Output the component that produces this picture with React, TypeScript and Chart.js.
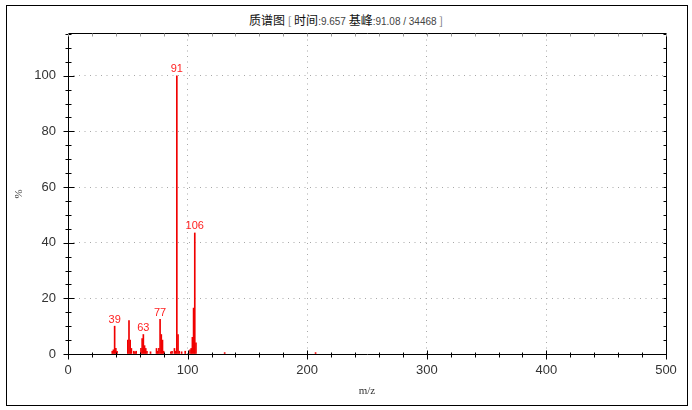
import { useEffect, useRef } from 'react'
import { Chart, registerables } from 'chart.js'

Chart.register(...registerables)

// spectrum peaks (m/z, relative abundance %)
const MZ = [
  37, 38, 39, 40, 41, 50, 51, 52, 53, 55, 56, 57, 61, 62, 63, 64, 65, 66, 69,
  74, 75, 76, 77, 78, 79, 80, 86, 87, 89, 90, 91, 92, 93, 95, 98, 102, 103,
  104, 105, 106, 107, 131, 207,
]
const ABUNDANCE = [
  1.0, 1.5, 10.0, 2.0, 1.0, 5.0, 12.0, 5.0, 2.0, 1.0, 0.8, 1.0, 2.0, 5.5, 7.0,
  3.0, 2.0, 1.0, 0.8, 2.0, 1.0, 2.0, 12.5, 7.0, 5.0, 1.0, 0.8, 1.0, 2.0, 1.0,
  100, 7.0, 1.0, 0.8, 1.0, 1.5, 2.0, 6.0, 16.5, 43.5, 4.0, 0.5, 0.5,
]
const LABELED = [39, 63, 77, 91, 106]

const X_MIN = 0
const X_MAX = 500
const X_MINOR = 20
const X_MAJOR = 100
const Y_MIN = 0
const Y_MAX = 115
const Y_MINOR = 5
const Y_MAJOR = 20

const TITLE_NAME = '质谱图'
const TITLE_TIME = '9.657'
const TITLE_BASE = '91.08 / 34468'

const peakLabels = {
  id: 'peakLabels',
  afterDatasetsDraw(chart: any) {
    const { ctx } = chart
    const meta = chart.getDatasetMeta(0)
    ctx.save()
    ctx.fillStyle = '#ff2020'
    ctx.font = '11px "Liberation Sans", Arial, sans-serif'
    ctx.textAlign = 'center'
    ctx.textBaseline = 'bottom'
    LABELED.forEach((m) => {
      const i = MZ.indexOf(m)
      const el = meta.data[i]
      if (el) ctx.fillText(String(m), el.x, el.y - 1)
    })
    ctx.restore()
  },
}

const axisFrame = {
  id: 'axisFrame',
  afterDraw(chart: any) {
    const { ctx, chartArea: a, scales } = chart
    const xs = scales.x
    const ys = scales.y
    const L = Math.round(a.left) + 0.5
    const R = Math.round(a.right) + 0.5
    const T = Math.round(a.top) - 0.5
    const B = Math.round(a.bottom) + 0.5
    ctx.save()
    ctx.lineWidth = 1
    ctx.strokeStyle = '#000'
    ctx.beginPath()
    ctx.rect(L, T, R - L, B - T)
    ctx.stroke()

    ctx.beginPath()
    ys.ticks.forEach((t: any) => {
      const py = Math.round(ys.getPixelForValue(t.value)) + 0.5
      const major = t.value % Y_MAJOR === 0
      ctx.moveTo(L - (major ? 5 : 3), py)
      ctx.lineTo(L + (major ? 6 : 3), py)
      ctx.moveTo(R - 3, py)
      ctx.lineTo(R, py)
    })
    xs.ticks.forEach((t: any) => {
      const px = Math.round(xs.getPixelForValue(t.value)) + 0.5
      const major = t.value % X_MAJOR === 0
      ctx.moveTo(px, B - (major ? 4 : 2))
      ctx.lineTo(px, B + (major ? 5 : 3))
    })
    ctx.stroke()

    ctx.strokeStyle = '#999'
    ctx.beginPath()
    xs.ticks.forEach((t: any) => {
      const px = Math.round(xs.getPixelForValue(t.value)) + 0.5
      ctx.moveTo(px, T)
      ctx.lineTo(px, T + 3)
    })
    ctx.stroke()
    ctx.restore()
  },
}

export default function App() {
  const canvasRef = useRef<HTMLCanvasElement>(null)
  const chartRef = useRef<Chart | null>(null)

  useEffect(() => {
    if (!canvasRef.current) return
    const ctx = canvasRef.current.getContext('2d')
    if (!ctx) return
    if (chartRef.current) chartRef.current.destroy()

    const tickFont = { family: '"Liberation Sans", Arial, sans-serif', size: 13 }
    const axisTitleFont = { family: '"Liberation Serif", "Times New Roman", serif', size: 11 }

    chartRef.current = new Chart(ctx, {
      type: 'bar',
      data: {
        datasets: [
          {
            data: MZ.map((m, i) => ({ x: m, y: ABUNDANCE[i] })),
            backgroundColor: '#f00000',
            borderWidth: 0,
            barThickness: 1,
          },
        ],
      },
      plugins: [peakLabels, axisFrame],
      options: {
        responsive: false,
        animation: false,
        layout: { padding: { left: 0, top: 34, right: 26, bottom: 0 } },
        plugins: {
          legend: { display: false },
          tooltip: { enabled: false },
          title: { display: false },
        },
        scales: {
          x: {
            type: 'linear',
            offset: false,
            min: X_MIN,
            max: X_MAX,
            afterFit: (s: any) => {
              s.height = 56
            },
            grid: {
              offset: false,
              drawTicks: false,
              color: (c: any) =>
                c.tick && c.tick.value % X_MAJOR === 0 && c.tick.value !== 0 ? '#a8a8a8' : 'transparent',
            },
            border: { display: false, dash: [1, 4.5] },
            ticks: {
              stepSize: X_MINOR,
              autoSkip: false,
              maxRotation: 0,
              padding: 9,
              color: '#333',
              font: tickFont,
              callback: (v: any) => (Number(v) % X_MAJOR === 0 ? String(v) : ''),
            },
            title: {
              display: true,
              text: 'm/z',
              color: '#333',
              font: axisTitleFont,
              padding: { top: 0, bottom: 12 },
            },
          },
          y: {
            min: Y_MIN,
            max: Y_MAX,
            afterFit: (s: any) => {
              s.width = 68
            },
            grid: {
              drawTicks: false,
              color: (c: any) =>
                c.tick && c.tick.value % Y_MAJOR === 0 && c.tick.value !== 0 ? '#a8a8a8' : 'transparent',
            },
            border: { display: false, dash: [1, 4.5] },
            ticks: {
              stepSize: Y_MINOR,
              autoSkip: false,
              padding: 12,
              color: '#333',
              font: tickFont,
              callback: (v: any) => (Number(v) % Y_MAJOR === 0 ? String(v) : ''),
            },
            title: {
              display: true,
              text: '%',
              color: '#333',
              font: axisTitleFont,
              padding: { top: 13, bottom: 0 },
            },
          },
        },
      },
    } as any)

    return () => {
      chartRef.current?.destroy()
      chartRef.current = null
    }
  }, [])

  const num = { fontFamily: '"Liberation Sans", Arial, sans-serif', fontSize: 10, color: '#444' }
  const gray = { color: '#777', fontSize: 11 }

  return (
    <div style={{ position: 'absolute', left: 0, top: 0, width: 692, height: 410, background: '#fff' }}>
      <div
        style={{
          position: 'absolute',
          left: 6,
          top: 5,
          width: 682,
          height: 401,
          boxSizing: 'border-box',
          border: '1px solid #000',
        }}
      />
      <div
        style={{
          position: 'absolute',
          left: 0,
          top: 12,
          width: 692,
          textAlign: 'center',
          fontFamily: '"Noto Sans CJK SC", sans-serif',
          fontSize: 12,
          lineHeight: '16px',
          color: '#111',
          whiteSpace: 'nowrap',
        }}
      >
        {TITLE_NAME} <span style={gray}>[</span> 时间<span style={num}>:{TITLE_TIME}</span> 基峰
        <span style={num}>:{TITLE_BASE}</span> <span style={gray}>]</span>
      </div>
      <canvas
        ref={canvasRef}
        width={692}
        height={410}
        style={{ position: 'absolute', left: 0, top: 0, width: 692, height: 410 }}
      />
    </div>
  )
}
